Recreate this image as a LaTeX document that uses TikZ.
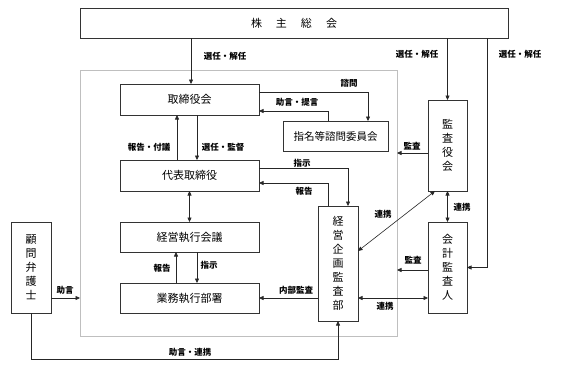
\documentclass[tikz,border=0pt]{standalone}
\usepackage{fontspec}
\setmainfont{Noto Sans CJK JP}
\newfontfamily\jp{Noto Sans CJK JP}
\usetikzlibrary{arrows.meta}
\begin{document}
\begin{tikzpicture}[x=1pt,y=-1pt,
  box/.style={draw=black!80,line width=0.7pt,inner sep=0pt,outer sep=0pt,font=\jp\fontsize{11pt}{14pt}\selectfont,align=center},
  lbl/.style={inner sep=1pt,font=\jp\bfseries\fontsize{8.5pt}{10pt}\selectfont},
  conn/.style={line width=0.6pt,black!85},
  arr/.style={conn,-{Triangle[length=4.5pt,width=4pt]}},
  darr/.style={conn,{Triangle[length=4.5pt,width=4pt]}-{Triangle[length=4.5pt,width=4pt]}}]
\useasboundingbox (0,0) rectangle (567,367);
\fill[white] (0,0) rectangle (567,367);
% outer gray frame
\node[draw=black!25,line width=0.8pt,minimum width=317pt,minimum height=266pt,inner sep=0pt,outer sep=0pt] (outer) at (238.5,203) {};
% boxes
\node[box,minimum width=428pt,minimum height=30pt] (sh) at (294,23) {株\hspace{14pt}主\hspace{14pt}総\hspace{14pt}会};
\node[box,minimum width=139pt,minimum height=31pt] (tk) at (189.5,99.5) {取締役会};
\node[box,minimum width=139pt,minimum height=31pt] (dh) at (189.5,175.5) {代表取締役};
\node[box,minimum width=139pt,minimum height=30pt] (kk) at (189.5,237) {経営執行会議};
\node[box,minimum width=139pt,minimum height=30pt] (gs) at (189.5,298) {業務執行部署};
\node[box,minimum width=40pt,minimum height=91pt] (km) at (31,267.5) {顧\\問\\弁\\護\\士};
\node[box,minimum width=105pt,minimum height=30pt,font=\jp\fontsize{10.5pt}{12pt}\selectfont] (sm) at (335.5,136) {指名等諮問委員会};
\node[box,minimum width=40pt,minimum height=115pt] (kb) at (338,263.5) {経\\営\\企\\画\\監\\査\\部};
\node[box,minimum width=39pt,minimum height=91pt] (ky) at (447.5,145.5) {監\\査\\役\\会};
\node[box,minimum width=39pt,minimum height=91pt] (ka) at (447.5,267.5) {会\\計\\監\\査\\人};
% helper coordinates
\coordinate (c1) at (31,359);
\coordinate (c2) at (487,267.5);
\coordinate (m1) at ([yshift=-7.5pt]ky.west);
\coordinate (m2) at ([yshift=-2.5pt]ka.west);
% connectors
\draw[arr] ([xshift=1.5pt]tk.north |- sh.south) -- ([xshift=1.5pt]tk.north);
\draw[arr] ([xshift=-12.5pt]dh.north) -- ([xshift=-12.5pt]tk.south);
\draw[arr] ([xshift=7.5pt]tk.south) -- ([xshift=7.5pt]dh.north);
\draw[darr] (dh.south) -- (kk.north);
\draw[arr] ([xshift=-13.5pt]gs.north) -- ([xshift=-13.5pt]kk.south);
\draw[arr] ([xshift=7.5pt]kk.south) -- ([xshift=7.5pt]gs.north);
\draw[arr] ([yshift=7.5pt]tk.east) -| ([xshift=32.5pt]sm.north);
\draw[arr] ([xshift=-7.5pt]sm.north) |- ([yshift=-11.5pt]tk.east);
\draw[arr] ([yshift=7.5pt]dh.east) -| ([xshift=10pt]kb.north);
\draw[arr] ([xshift=-10pt]kb.north) |- ([yshift=-7.5pt]dh.east);
\draw[arr] (kb.west |- gs.east) -- (gs.east);
\draw[arr] (km.east |- gs.east) -- (outer.west |- gs.east);
\draw[arr] (km.south) |- (kb.south |- c1) -- (kb.south);
\draw[arr] (ky.north |- sh.south) -- (ky.north);
\draw[arr] (c2 |- sh.south) |- (ka.east);
\draw[arr] (m1) -- (m1 -| outer.east);
\draw[arr] (m2) -- (m2 -| outer.east);
\draw[darr] (ky.south) -- (ka.north);
\draw[darr] ([xshift=7pt]ky.south west) -- ([yshift=12.5pt]kb.east);
\draw[darr] (kb.east |- gs.east) -- (ka.west |- gs.east);
% labels
\node[lbl] (l1) at (225,56) {選任・解任};
\node[lbl] (l2) at (149,147) {報告・付議};
\node[lbl] (l3) at (223,147) {選任・監督};
\node[lbl] (l4) at (349,83) {諮問};
\node[lbl] (l5) at (297,102) {助言・提言};
\node[lbl] (l6) at (302,163) {指示};
\node[lbl] (l7) at (304,191) {報告};
\node[lbl] (l8) at (162,268) {報告};
\node[lbl] (l9) at (209,265) {指示};
\node[lbl] (l10) at (65,290) {助言};
\node[lbl] (l11) at (296,290) {内部監査};
\node[lbl] (l12) at (190,352) {助言・連携};
\node[lbl] (l13) at (417,54) {選任・解任};
\node[lbl] (l14) at (520,54) {選任・解任};
\node[lbl] (l15) at (412,146) {監査};
\node[lbl] (l16) at (462,207) {連携};
\node[lbl] (l17) at (383,214) {連携};
\node[lbl] (l18) at (413,260) {監査};
\node[lbl] (l19) at (385,306) {連携};
\end{tikzpicture}
\end{document}
